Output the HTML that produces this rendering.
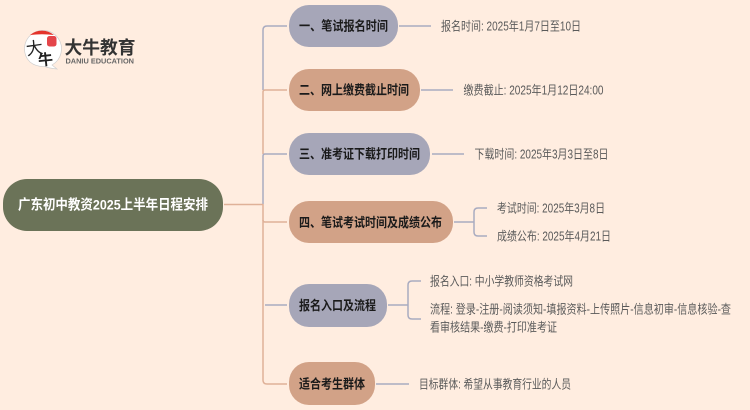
<!DOCTYPE html>
<html lang="zh">
<head>
<meta charset="utf-8">
<style>
html,body{margin:0;padding:0;width:750px;height:410px;overflow:hidden;background:#ffede0}
svg{display:block}
text{font-family:"Liberation Sans","Noto Sans CJK SC",sans-serif}
.n{font-size:13px;font-weight:700;fill:#1a1a1a}
.t{font-size:12.5px;fill:#5a5a5a}
.g{fill:none;stroke:#a9abc0;stroke-width:1.5}
.b{fill:none;stroke:#dfb198;stroke-width:1.5}
</style>
</head>
<body>
<svg width="750" height="410" viewBox="0 0 750 410" xmlns="http://www.w3.org/2000/svg">
<rect width="750" height="410" fill="#ffede0"/>

<!-- logo -->
<path d="M30 62 A18.5 18.5 0 1 1 52 65 L57 69 Q48 68 45 66.500 Q36 67 30 62Z" fill="#fff" stroke="#cfcfcf" stroke-width=".7"/>
<path d="M30 35 A18.500 18.500 0 0 1 54 35 Q42 33.500 30 35Z" fill="#e4332b"/>
<rect x="47" y="36" width="9.500" height="10.500" rx="2.500" fill="#e4454a"/>
<text x="26" y="54" transform="rotate(-8 35 48)" style="font-size:17px;font-weight:400" fill="#222">大</text>
<text x="38" y="65" transform="rotate(-6 45 59)" style="font-size:15px;font-weight:700" fill="#222">牛</text>
<text x="64.500" y="54" font-size="18" font-weight="700" fill="#333" textLength="71" lengthAdjust="spacingAndGlyphs">大牛教育</text>
<text x="65.500" y="63.500" font-size="7" font-weight="700" fill="#666" textLength="68.500" lengthAdjust="spacingAndGlyphs">DANIU EDUCATION</text>

<!-- trunk connectors -->
<path class="g" d="M263 90 V30 Q263 26 267 26 H287"/>
<path class="b" d="M263 154 V92 Q263 90 265 90 H287"/>
<path class="g" d="M263 204 V156 Q263 154 265 154 H287"/>
<path class="g" d="M265 305 H287"/>
<path class="b" d="M263 204 V380 Q263 384 267 384 H287"/>
<path class="b" d="M263 220 Q263 222 265 222 H287"/>
<path class="b" d="M224 204.500 H263"/>

<!-- root -->
<rect x="3" y="179" width="220" height="52" rx="24" fill="#6b7358"/>
<text x="18" y="209.500" font-size="14" font-weight="700" fill="#fff" textLength="190" lengthAdjust="spacingAndGlyphs">广东初中教资2025上半年日程安排</text>

<!-- nodes -->
<rect x="289" y="5" width="109" height="42" rx="20" fill="#a6a6b8"/>
<rect x="289" y="69" width="131" height="42" rx="20" fill="#d2a287"/>
<rect x="289" y="133" width="141" height="42" rx="20" fill="#a6a6b8"/>
<rect x="289" y="201" width="164" height="42" rx="20" fill="#d2a287"/>
<rect x="289" y="284" width="98" height="43" rx="20" fill="#a6a6b8"/>
<rect x="289" y="362" width="86" height="43" rx="20" fill="#d2a287"/>

<text class="n" x="299" y="30.500" textLength="89" lengthAdjust="spacingAndGlyphs">一、笔试报名时间</text>
<text class="n" x="299" y="94.500" textLength="110" lengthAdjust="spacingAndGlyphs">二、网上缴费截止时间</text>
<text class="n" x="299" y="158.500" textLength="121" lengthAdjust="spacingAndGlyphs">三、准考证下载打印时间</text>
<text class="n" x="299" y="227" textLength="143" lengthAdjust="spacingAndGlyphs">四、笔试考试时间及成绩公布</text>
<text class="n" x="299" y="310" textLength="77" lengthAdjust="spacingAndGlyphs">报名入口及流程</text>
<text class="n" x="299" y="388.500" textLength="66" lengthAdjust="spacingAndGlyphs">适合考生群体</text>

<!-- right connectors -->
<path class="g" d="M399 26 H431"/>
<path class="g" d="M421 90 H453"/>
<path class="g" d="M432 154 H464"/>
<path class="g" d="M454 222 H474 M487 208 H478 Q474 208 474 212 V232 Q474 236 478 236 H487"/>
<path class="g" d="M388 305 H408 M421 281 H412 Q408 281 408 285 V315 Q408 319 412 319 H421"/>
<path class="g" d="M376 384 H409"/>

<!-- leaf text -->
<text class="t" x="441" y="30.500" textLength="140" lengthAdjust="spacingAndGlyphs">报名时间: 2025年1月7日至10日</text>
<text class="t" x="463.500" y="94.500" textLength="140" lengthAdjust="spacingAndGlyphs">缴费截止: 2025年1月12日24:00</text>
<text class="t" x="474.500" y="158.500" textLength="134" lengthAdjust="spacingAndGlyphs">下载时间: 2025年3月3日至8日</text>
<text class="t" x="497" y="212.500" textLength="108" lengthAdjust="spacingAndGlyphs">考试时间: 2025年3月8日</text>
<text class="t" x="497" y="240.500" textLength="114" lengthAdjust="spacingAndGlyphs">成绩公布: 2025年4月21日</text>
<text class="t" x="430" y="285.500" textLength="143" lengthAdjust="spacingAndGlyphs">报名入口: 中小学教师资格考试网</text>
<text class="t" x="430" y="313.500" textLength="301" lengthAdjust="spacingAndGlyphs">流程: 登录-注册-阅读须知-填报资料-上传照片-信息初审-信息核验-查</text>
<text class="t" x="430" y="331.500" textLength="127" lengthAdjust="spacingAndGlyphs">看审核结果-缴费-打印准考证</text>
<text class="t" x="419" y="388.500" textLength="152" lengthAdjust="spacingAndGlyphs">目标群体: 希望从事教育行业的人员</text>
</svg>
</body>
</html>
